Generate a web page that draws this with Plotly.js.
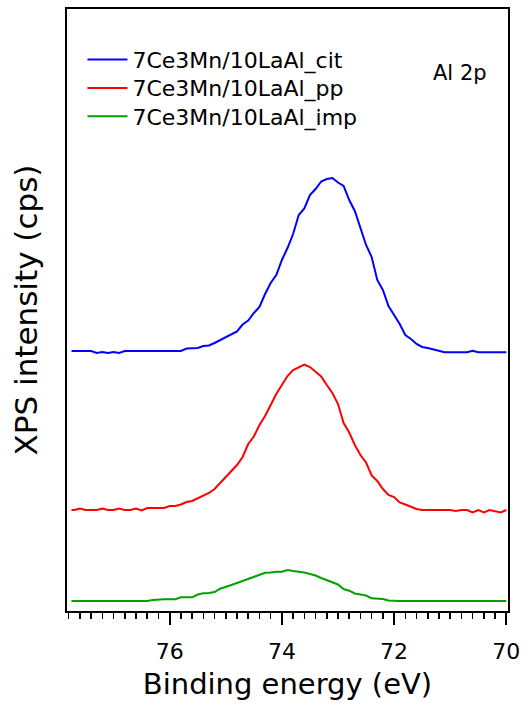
<!DOCTYPE html>
<html>
<head>
<meta charset="utf-8">
<script src="https://cdn.plot.ly/plotly-3.0.1.min.js"></script>
<style>html,body{margin:0;padding:0;background:#fff;}#chart{width:525px;height:706px;}</style>
</head>
<body>
<div id="chart"></div>
<script>
// Binding energy (eV)
var energy = [77.75, 77.7, 77.6, 77.5, 77.4, 77.3, 77.2, 77.1, 77.0,
  76.9, 76.8, 76.7, 76.6, 76.5, 76.4, 76.3, 76.2, 76.1, 76.0,
  75.9, 75.8, 75.7, 75.6, 75.5, 75.4, 75.3, 75.2, 75.1, 75.0,
  74.9, 74.8, 74.7, 74.6, 74.5, 74.4, 74.3, 74.2, 74.1, 74.0,
  73.9, 73.8, 73.7, 73.6, 73.5, 73.4, 73.3, 73.2, 73.1, 73.0,
  72.9, 72.8, 72.7, 72.6, 72.5, 72.4, 72.3, 72.2, 72.1, 72.0,
  71.9, 71.8, 71.7, 71.6, 71.5, 71.4, 71.3, 71.2, 71.1, 71.0,
  70.9, 70.8, 70.7, 70.6, 70.5, 70.4, 70.3, 70.2, 70.1, 70.0];

// Intensities (arbitrary, stacked with offsets as in the figure)
var citIntensity = [260, 260, 260, 260, 260, 258, 259, 258, 259,
  258, 260, 260, 260, 260, 260, 260, 260, 260, 260,
  260, 260, 262.5, 262.7, 263, 265, 265.5, 268, 271, 273.5,
  277, 279.5, 286.5, 290.5, 298, 304, 317, 328, 336, 351,
  363, 377, 396, 402.5, 416, 422, 429.5, 432, 433, 428.5,
  425, 411, 400, 383, 366, 354, 331, 321, 305, 296,
  287, 276, 272, 267, 264, 263, 261.5, 260.7, 258.7, 258.7,
  258.7, 258.7, 258.7, 260.3, 258.7, 258.7, 258.7, 258.7, 258.7, 258.7];

var ppIntensity = [101, 101, 102.5, 101, 101, 101, 102.5, 101, 101,
  102.5, 101, 101, 102.5, 100.5, 103, 103, 103, 103, 105,
  105, 106.5, 109, 110, 112.5, 115.5, 118, 122, 128, 133,
  140, 146, 154, 167, 174.5, 186, 195, 206.5, 217, 226,
  235, 241, 244, 246.5, 244, 239.5, 234.5, 226, 218, 207,
  188, 178.5, 166, 156, 148.5, 135.5, 130, 122, 116, 114,
  108.5, 106.5, 104.5, 102, 101, 101, 101, 101, 101, 101,
  100, 101, 101, 98.5, 101, 98.5, 101, 100, 98.5, 101];

var impIntensity = [10, 10, 10, 10, 10, 10, 10, 10, 10,
  10, 10, 10, 10, 10, 10, 11, 11.7, 11.7, 11.7,
  11.7, 13.7, 13.7, 13.7, 16.5, 17.7, 18, 19, 22.3, 24.5,
  26, 28, 30, 32, 34.5, 36, 38.2, 38.5, 39.3, 39.3,
  41, 40, 39.3, 38.5, 37, 35.5, 33, 30.7, 28.5, 26.5,
  22, 20.3, 17.5, 16.5, 15.5, 12.7, 12.2, 12, 10.5, 10,
  10, 10, 10, 10, 10, 10, 10, 10, 10, 10,
  10, 10, 10, 10, 10, 10, 10, 10, 10, 10];

var seriesNames = ['7Ce3Mn/10LaAl_cit', '7Ce3Mn/10LaAl_pp', '7Ce3Mn/10LaAl_imp'];
var seriesColors = ['#0000ff', '#ff0000', '#00a000'];
var tickValues = [76, 74, 72, 70];
var tickLabels = ['76', '74', '72', '70'];

var FONT = 'DejaVu Sans, Verdana, sans-serif';
var legendIds = ['legend', 'legend2', 'legend3'];
var legendTops = [0.9505, 0.9035, 0.8565];

var seriesData = [citIntensity, ppIntensity, impIntensity];
var traces = seriesData.map(function (ys, i) {
  return {
    x: energy, y: ys, type: 'scatter', mode: 'lines',
    name: seriesNames[i], legend: legendIds[i],
    line: {color: seriesColors[i], width: 2}
  };
});

var layout = {
  width: 525, height: 706,
  margin: {l: 67, r: 17, t: 9, b: 95},
  paper_bgcolor: '#ffffff', plot_bgcolor: '#ffffff',
  showlegend: true,
  xaxis: {
    range: [77.83, 69.97],
    tickvals: tickValues, ticktext: tickLabels,
    ticks: 'outside', ticklen: 12, tickwidth: 2, tickcolor: '#000',
    minor: {dtick: 0.2, tick0: 70, ticks: 'outside', ticklen: 6, tickwidth: 1.5, tickcolor: '#000', showgrid: false},
    showline: true, linewidth: 2, linecolor: '#000', mirror: true,
    showgrid: false, zeroline: false,
    tickfont: {family: FONT, size: 22, color: '#000'},
    ticklabelstandoff: 8,
    title: {text: 'Binding energy (eV)', font: {family: FONT, size: 29, color: '#000'}, standoff: 10}
  },
  yaxis: {
    range: [0, 602],
    showline: true, linewidth: 2, linecolor: '#000', mirror: true,
    ticks: '', showticklabels: false, showgrid: false, zeroline: false,
    title: {text: 'XPS intensity (cps)', font: {family: FONT, size: 31, color: '#000'}, standoff: 18}
  },
  annotations: [{
    text: 'Al 2p', xref: 'paper', yref: 'paper', x: 0.891, y: 0.894,
    xanchor: 'center', yanchor: 'middle', showarrow: false,
    font: {family: FONT, size: 21, color: '#000'}
  }]
};

legendIds.forEach(function (id, i) {
  layout[id] = {
    x: 0.035, y: legendTops[i], xanchor: 'left', yanchor: 'top',
    bgcolor: 'rgba(0,0,0,0)', borderwidth: 0,
    font: {family: FONT, size: 22, color: '#000'},
    itemwidth: 40
  };
});

Plotly.newPlot('chart', traces, layout, {displayModeBar: false, staticPlot: true});
</script>
</body>
</html>
